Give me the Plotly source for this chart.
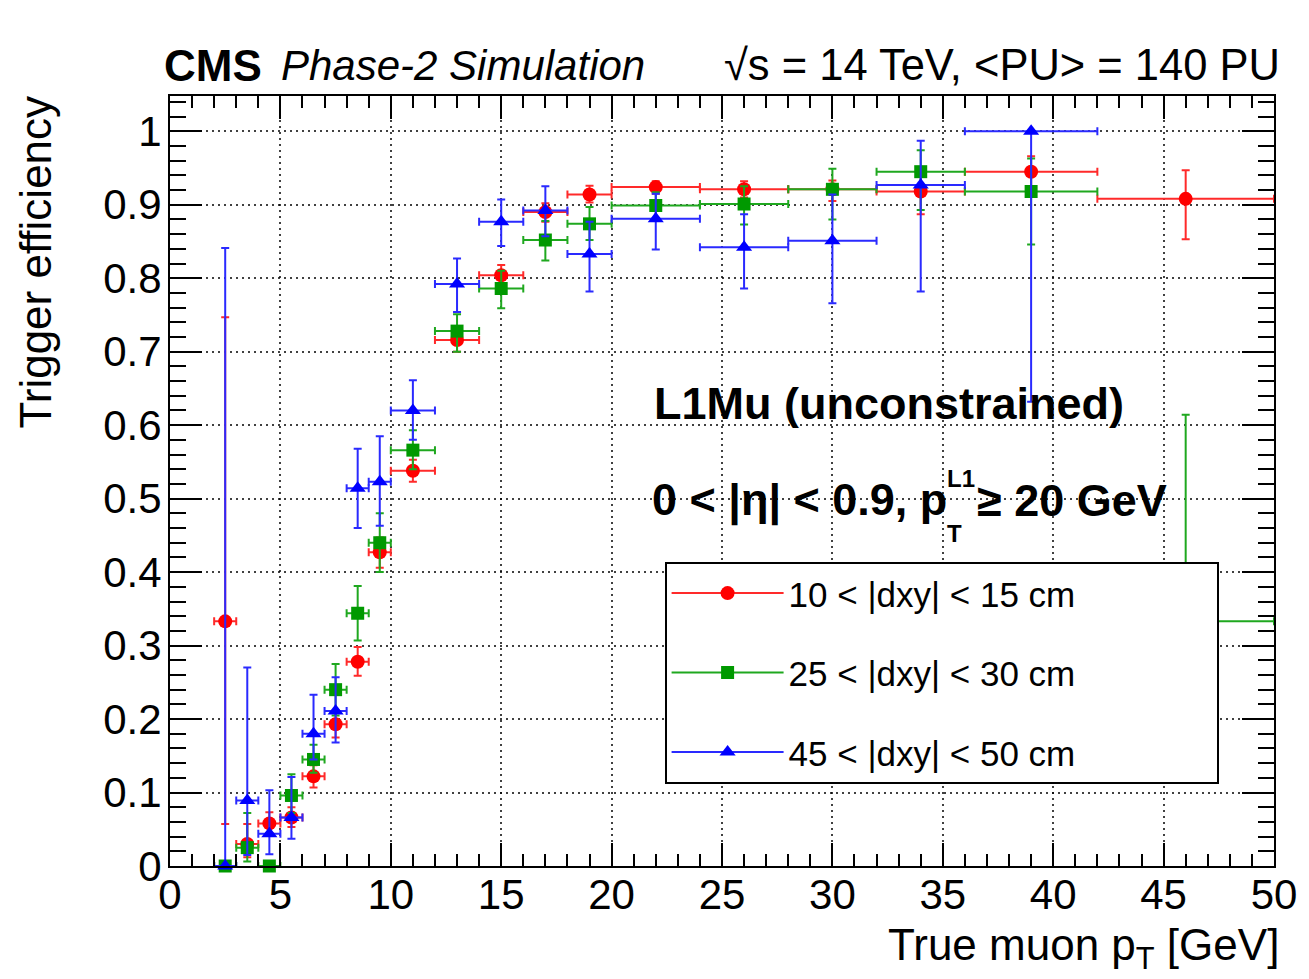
import plotly.graph_objects as go

# True muon pT binning [GeV]
bin_edges = [2, 3, 4, 5, 6, 7, 8, 9, 10, 12, 14, 16, 18, 20, 24, 28, 32, 36, 42, 50]

# 10 < |dxy| < 15 cm : efficiency and asymmetric confidence limits
eff_d10 = [0.333, 0.030, 0.058, 0.066, 0.122, 0.193, 0.278, 0.427, 0.538, 0.716,
           0.804, 0.890, 0.914, 0.924, 0.921, 0.921, 0.918, 0.945, 0.908]
hi_d10 = [0.747, 0.057, 0.073, 0.080, 0.137, 0.212, 0.298, 0.447, 0.553, 0.730,
          0.818, 0.902, 0.926, 0.932, 0.932, 0.933, 0.945, 0.966, 0.947]
lo_d10 = [0.057, 0.012, 0.045, 0.053, 0.107, 0.175, 0.259, 0.406, 0.523, 0.700,
          0.789, 0.877, 0.903, 0.915, 0.910, 0.905, 0.887, 0.918, 0.853]

# 25 < |dxy| < 30 cm
eff_d25 = [0.000, 0.025, 0.000, 0.096, 0.145, 0.240, 0.344, 0.440, 0.566, 0.728,
           0.786, 0.852, 0.874, 0.899, 0.901, 0.921, 0.945, 0.918, 0.333]
hi_d25 = [0.000, 0.072, 0.000, 0.125, 0.165, 0.275, 0.381, 0.480, 0.593, 0.751,
          0.810, 0.878, 0.897, 0.917, 0.925, 0.949, 0.974, 0.963, 0.614]
lo_d25 = [0.000, 0.006, 0.000, 0.072, 0.127, 0.205, 0.307, 0.400, 0.540, 0.700,
          0.759, 0.824, 0.852, 0.880, 0.873, 0.880, 0.893, 0.846, 0.120]

# 45 < |dxy| < 50 cm (no entries in the last bin)
eff_d45 = [0.000, 0.089, 0.044, 0.066, 0.180, 0.211, 0.514, 0.523, 0.620, 0.792,
           0.877, 0.892, 0.833, 0.881, 0.842, 0.851, 0.927, 1.000]
hi_d45 = [0.841, 0.270, 0.103, 0.121, 0.233, 0.257, 0.568, 0.585, 0.661, 0.827,
          0.907, 0.925, 0.877, 0.915, 0.887, 0.914, 0.987, 1.000]
lo_d45 = [0.000, 0.015, 0.016, 0.037, 0.145, 0.168, 0.460, 0.463, 0.580, 0.754,
          0.844, 0.857, 0.782, 0.839, 0.786, 0.766, 0.782, 0.632]

series = [
    ("10 < |dxy| < 15 cm", eff_d10, hi_d10, lo_d10, "#ff0000", "#ff2a2a", "circle", 14),
    ("25 < |dxy| < 30 cm", eff_d25, hi_d25, lo_d25, "#009900", "#1fa81f", "square", 13),
    ("45 < |dxy| < 50 cm", eff_d45, hi_d45, lo_d45, "#0000ff", "#2a2aff", "triangle-up", 14),
]

centers = [(a + b) / 2 for a, b in zip(bin_edges[:-1], bin_edges[1:])]
halfw = [(b - a) / 2 for a, b in zip(bin_edges[:-1], bin_edges[1:])]

FONT = "Liberation Sans, Arial, Helvetica, sans-serif"
PAD = "\u00a0" * 14  # widens the legend box to the right

fig = go.Figure()

for i, (name, eff, hi, lo, mcol, lcol, sym, msize) in enumerate(series):
    n = len(eff)
    fig.add_trace(go.Scatter(
        x=centers[:n], y=eff, mode="markers", showlegend=False,
        marker=dict(symbol=sym, size=msize, color=mcol, line=dict(width=0)),
        error_x=dict(type="data", array=halfw[:n], symmetric=True,
                     color=lcol, thickness=2, width=4),
        error_y=dict(type="data",
                     array=[h - e for h, e in zip(hi, eff)],
                     arrayminus=[e - l for e, l in zip(eff, lo)],
                     color=lcol, thickness=2, width=4),
        cliponaxis=False,
    ))

# legend entries (line + marker)
for i, (name, eff, hi, lo, mcol, lcol, sym, msize) in enumerate(series):
    fig.add_trace(go.Scatter(
        x=[None], y=[None], mode="lines+markers", name=name + PAD,
        legendgroup=f"g{i}",
        line=dict(color=lcol, width=2),
        marker=dict(symbol=sym, size=msize, color=mcol),
    ))

axis_common = dict(
    showline=True, linecolor="black", linewidth=2, mirror="ticks",
    ticks="inside", tickcolor="black", tickwidth=2,
    showgrid=True, gridcolor="rgba(0,0,0,0.75)", griddash="2px,4px", gridwidth=2,
    zeroline=False,
    tickfont=dict(family=FONT, size=42, color="black"),
)

fig.update_xaxes(range=[0, 50], dtick=5, tick0=0, ticklen=23, ticklabelstandoff=-9,
                 minor=dict(dtick=1, ticks="inside", ticklen=12, tickcolor="black",
                            tickwidth=1.5, showgrid=False),
                 **axis_common)
fig.update_yaxes(range=[0, 1.048], dtick=0.1, tick0=0, ticklen=32, ticklabelstandoff=-2,
                 minor=dict(dtick=0.02, ticks="inside", ticklen=16, tickcolor="black",
                            tickwidth=1.5, showgrid=False),
                 **axis_common)


def px_to_x(px):
    return (px - 170) / 1107 * 50


annotations = [
    dict(text="<b>CMS</b>", xref="paper", yref="paper", x=-0.007, y=1.040,
         xanchor="left", yanchor="middle", showarrow=False,
         font=dict(family=FONT, size=44, color="black")),
    dict(text="<i>Phase-2 Simulation</i>", xref="paper", yref="paper", x=0.099, y=1.040,
         xanchor="left", yanchor="middle", showarrow=False,
         font=dict(family=FONT, size=42, color="black")),
    dict(text="√s = 14 TeV, <PU> = 140 PU", xref="paper", yref="paper", x=1.007, y=1.040,
         xanchor="right", yanchor="middle", showarrow=False,
         font=dict(family=FONT, size=43.5, color="black")),
    dict(text="Trigger efficiency", xref="paper", yref="paper", x=-0.122, y=1.003,
         xanchor="center", yanchor="top", textangle=-90, showarrow=False,
         font=dict(family=FONT, size=44, color="black")),
    dict(text="True muon p<sub>T</sub> [GeV]", xref="paper", yref="paper", x=1.006, y=-0.068,
         xanchor="right", yanchor="top", showarrow=False,
         font=dict(family=FONT, size=44, color="black")),
    dict(text="<b>L1Mu (unconstrained)</b>", xref="x", yref="y", x=px_to_x(653), y=0.630,
         xanchor="left", yanchor="middle", showarrow=False,
         font=dict(family=FONT, size=45, color="black")),
    # selection line: main text, stacked sub/superscript, and the threshold
    dict(text="<b>0 < |η| < 0.9, p</b>", xref="x", yref="y", x=px_to_x(651), y=0.498,
         xanchor="left", yanchor="middle", showarrow=False,
         font=dict(family=FONT, size=45, color="black")),
    dict(text="<b>L1</b>", xref="x", yref="y", x=px_to_x(947), y=0.527,
         xanchor="left", yanchor="middle", showarrow=False,
         font=dict(family=FONT, size=24, color="black")),
    dict(text="<b>T</b>", xref="x", yref="y", x=px_to_x(947), y=0.452,
         xanchor="left", yanchor="middle", showarrow=False,
         font=dict(family=FONT, size=24, color="black")),
    dict(text="<b>≥ 20 GeV</b>", xref="x", yref="y", x=px_to_x(977), y=0.498,
         xanchor="left", yanchor="middle", showarrow=False,
         font=dict(family=FONT, size=45, color="black")),
]

fig.update_layout(
    width=1309, height=979, autosize=False,
    margin=dict(l=170, r=32, t=96, b=113),
    paper_bgcolor="white", plot_bgcolor="white",
    font=dict(family=FONT, color="black"),
    annotations=annotations,
    showlegend=True,
    legend=dict(x=0.448, y=0.395, xanchor="left", yanchor="top",
                bgcolor="white", bordercolor="black", borderwidth=2,
                font=dict(family=FONT, size=35, color="black"),
                tracegroupgap=31, itemwidth=112, itemsizing="trace"),
)

fig.write_html("out.html")
